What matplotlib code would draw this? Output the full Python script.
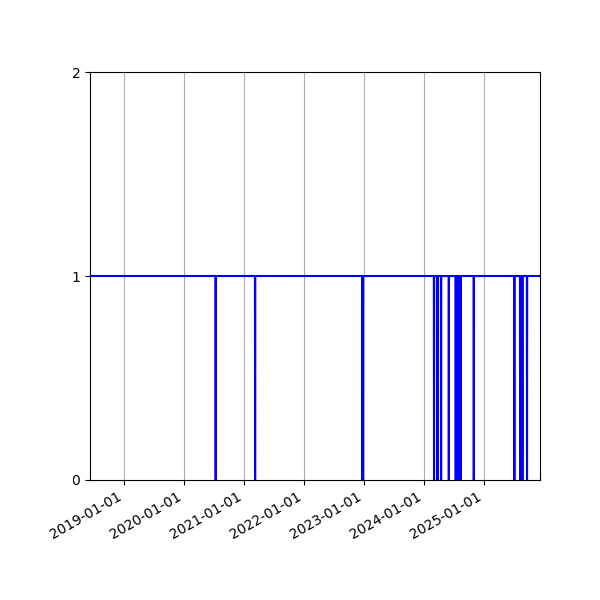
import numpy as np
import pandas as pd
import matplotlib
matplotlib.use("Agg")
import matplotlib.pyplot as plt
import matplotlib.dates as mdates

# Observation window (daily availability flag)
start_date = "2018-06-08"
end_date = "2025-12-07"

# Days where the flag dropped to 0
outage_dates = [
    "2020-07-12",
    "2021-03-09",
    "2022-12-21", "2022-12-25",
    "2024-03-02",
    "2024-03-23",
    "2024-04-14",
    "2024-05-31",
    "2024-07-12", "2024-07-17", "2024-07-22", "2024-07-27",
    "2024-08-01", "2024-08-06", "2024-08-10",
    "2024-10-30",
    "2025-07-04",
    "2025-08-08",
    "2025-08-22",
    "2025-09-19",
]

days = pd.date_range(start_date, end_date, freq="D")
flag = pd.Series(1, index=days)
flag[pd.to_datetime(outage_dates)] = 0

fig, ax = plt.subplots(figsize=(6, 6), dpi=100)
ax.plot(flag.index, flag.values, color="blue", linewidth=1.5)

ax.set_xlim(days[0], days[-1])
ax.set_ylim(0, 2)
ax.set_yticks([0, 1, 2])
ax.xaxis.set_major_locator(mdates.YearLocator())
ax.xaxis.set_major_formatter(mdates.DateFormatter("%Y-%m-%d"))
ax.grid(True, axis="x")
ax.set_axisbelow(True)

fig.autofmt_xdate()
fig.subplots_adjust(left=0.15, right=0.9, top=0.88, bottom=0.2)
fig.savefig("out.png", dpi=100)
